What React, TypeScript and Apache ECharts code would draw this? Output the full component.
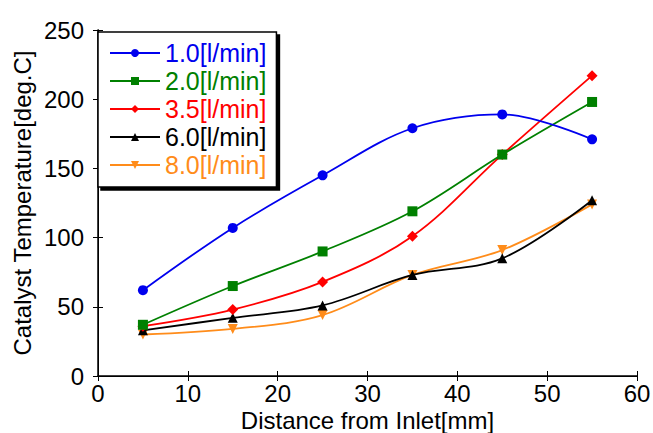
import React, { useEffect, useRef } from "react";
import * as echarts from "echarts";

const xValues = [5, 15, 25, 35, 45, 55];
const seriesNames = ["1.0[l/min]", "2.0[l/min]", "3.5[l/min]", "6.0[l/min]", "8.0[l/min]"];
const colors = ["#0000ee", "#008000", "#ff0000", "#000000", "#ff8c1a"];
const symbols = ["circle", "rect", "diamond", "triangle", "triangle"];
const symbolRotates = [0, 0, 0, 0, 180];
const flow10 = [62, 107, 145, 179, 189, 171];
const flow20 = [37, 65, 90, 119, 160, 198];
const flow35 = [36, 48, 68, 101, 160, 217];
const flow60 = [33, 42, 51, 73, 85, 127];
const flow80 = [30, 34, 44, 73, 91, 124];
const allValues = [flow10, flow20, flow35, flow60, flow80];

export default function App() {
  const ref = useRef<HTMLDivElement>(null);
  useEffect(() => {
    if (!ref.current) return;
    const chart = echarts.init(ref.current, null, { renderer: "svg" });
    const font = "Liberation Sans, Arial, sans-serif";
    chart.setOption({
      animation: false,
      grid: {
        left: 98,
        top: 30,
        right: 16,
        bottom: 57,
        containLabel: false,
        outerBoundsMode: "none",
      },
      legend: {
        left: 98,
        top: 32,
        orient: "vertical",
        backgroundColor: "#fff",
        borderColor: "#000",
        borderWidth: 1.5,
        shadowColor: "#000",
        shadowBlur: 0,
        shadowOffsetX: 3,
        shadowOffsetY: 3,
        padding: [7, 10, 8, 11],
        itemGap: 0,
        itemWidth: 50,
        itemHeight: 10,
        data: seriesNames.map((n, i) => ({
          name: n,
          textStyle: { color: colors[i], fontSize: 25, lineHeight: 28, fontFamily: font },
        })),
        textStyle: { fontSize: 25, lineHeight: 28, fontFamily: font },
      },
      xAxis: [
        {
          type: "value",
          min: 0,
          max: 60,
          interval: 10,
          name: "Distance from Inlet[mm]",
          nameLocation: "middle",
          nameGap: 32,
          nameMoveOverlap: false,
          nameTextStyle: { fontSize: 24, lineHeight: 24, fontFamily: font, color: "#000" },
          axisLine: { lineStyle: { color: "#000", width: 1.5 } },
          axisTick: { inside: true, length: 5, lineStyle: { color: "#000" } },
          axisLabel: { fontSize: 24, lineHeight: 24, fontFamily: font, color: "#000", margin: 5 },
          splitLine: { show: false },
        },
        {
          type: "value",
          position: "top",
          min: 0,
          max: 60,
          interval: 10,
          axisLine: { show: true, lineStyle: { color: "#000", width: 1 } },
          axisTick: { inside: true, length: 5, lineStyle: { color: "#000" } },
          axisLabel: { show: false },
          splitLine: { show: false },
        },
      ],
      yAxis: [
        {
          type: "value",
          min: 0,
          max: 250,
          interval: 50,
          name: "Catalyst Temperature[deg.C]",
          nameLocation: "middle",
          nameGap: 64,
          nameMoveOverlap: false,
          nameTextStyle: { fontSize: 24, fontFamily: font, color: "#000" },
          axisLine: { show: true, lineStyle: { color: "#000", width: 1.5 } },
          axisTick: { inside: true, length: 5, lineStyle: { color: "#000" } },
          axisLabel: { fontSize: 24, fontFamily: font, color: "#000", margin: 14 },
          splitLine: { show: false },
        },
        {
          type: "value",
          position: "right",
          min: 0,
          max: 250,
          interval: 50,
          axisLine: { show: true, lineStyle: { color: "#000", width: 1 } },
          axisTick: { inside: true, length: 5, lineStyle: { color: "#000" } },
          axisLabel: { show: false },
          splitLine: { show: false },
        },
      ],
      series: seriesNames.map((n, i) => ({
        name: n,
        type: "line",
        smooth: 0.35,
        data: xValues.map((x, j) => [x, allValues[i][j]]),
        symbol: symbols[i],
        symbolRotate: symbolRotates[i],
        symbolSize: i === 1 ? 10 : i === 2 ? 11 : 10,
        color: colors[i],
        lineStyle: { color: colors[i], width: 1.8 },
        itemStyle: { color: colors[i] },
        z: 10 - i,
      })),
    });
    return () => chart.dispose();
  }, []);
  return (
    <div
      ref={ref}
      style={{ position: "fixed", left: 0, top: 0, width: 653, height: 433, background: "#fff" }}
    />
  );
}
